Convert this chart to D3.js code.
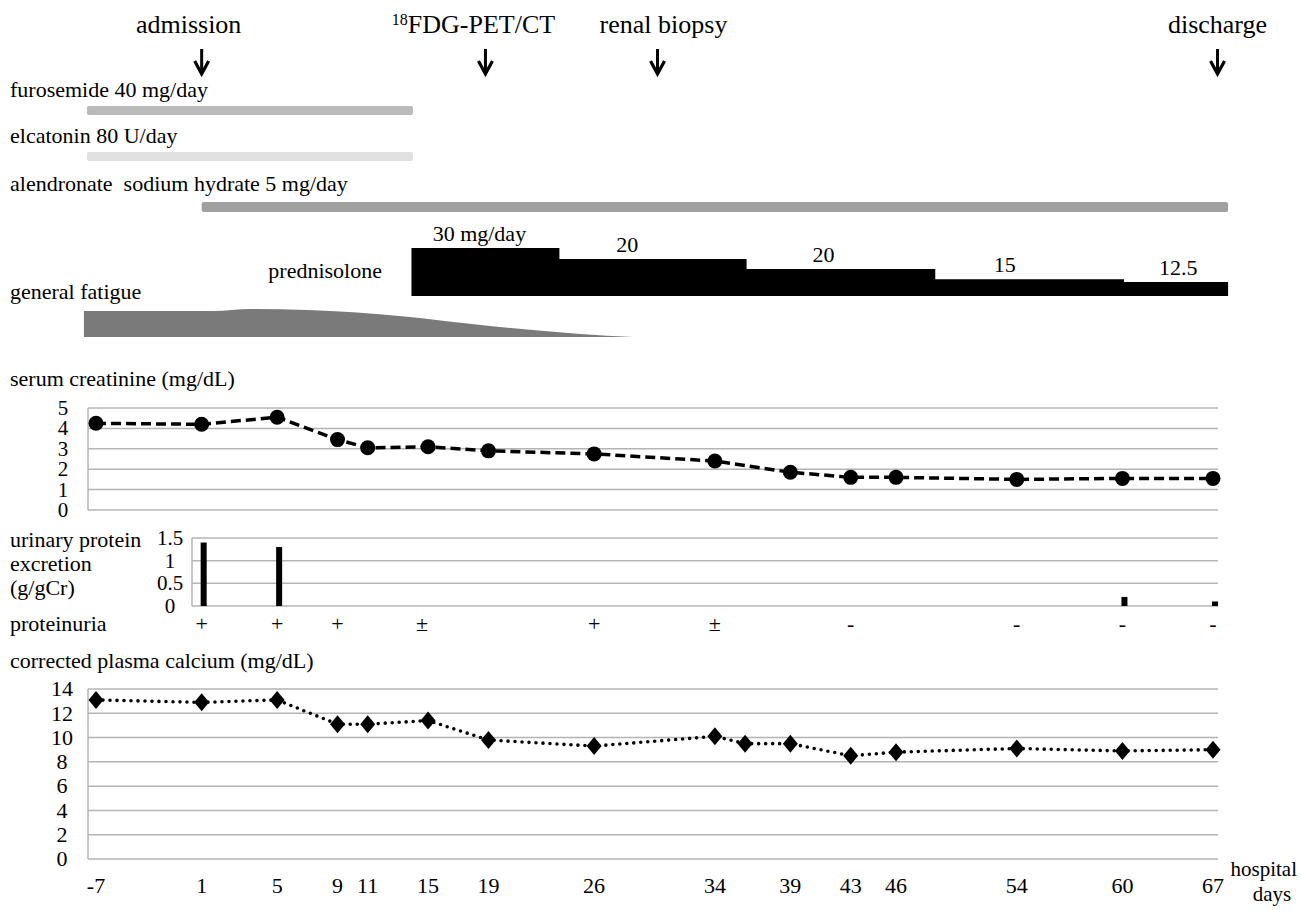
<!DOCTYPE html>
<html>
<head>
<meta charset="utf-8">
<script src="https://cdn.jsdelivr.net/npm/d3@7"></script>
<style>
  html, body { margin: 0; padding: 0; background: #fff; }
  svg { display: block; }
  svg text { font-family: "Liberation Serif", "Times New Roman", serif !important; fill: #000; }
</style>
</head>
<body>
<svg id="chart" width="1301" height="910" font-family="Liberation Serif, serif"></svg>
<script>
// ---------------- DATA ----------------
// sampling days (labels) and their drawn position along the time axis (days, no day 0)
const sampleDays = [-7, 1, 5, 9, 11, 15, 19, 26, 34, 36, 39, 43, 46, 54, 60, 67];
const samplePos  = [-6, 1, 6, 10, 12, 16, 20, 27, 35, 37, 40, 44, 47, 55, 62, 68];
const tickLabels = ['-7','1','5','9','11','15','19','26','34','','39','43','46','54','60','67'];

const creatinine = [4.25, 4.2, 4.55, 3.45, 3.05, 3.1, 2.9, 2.75, 2.4, null, 1.85, 1.6, 1.6, 1.5, 1.55, 1.55];
const calcium    = [13.1, 12.9, 13.1, 11.1, 11.1, 11.4, 9.8, 9.3, 10.1, 9.5, 9.5, 8.5, 8.8, 9.1, 8.9, 9.0];

const upcrPos    = [1, 6, 62, 68];
const upcrValues = [1.4, 1.3, 0.2, 0.1];

const protPos  = [1, 6, 10, 15.6, 27, 35, 44, 55, 62, 68];
const protSign = ['+', '+', '+', '±', '+', '±', '-', '-', '-', '-'];

const eventNames = ['admission', 'FDG-PET/CT', 'renal biopsy', 'discharge'];
const eventPos   = [1, 19.8, 31.2, 68.3];

const drugNames  = ['furosemide 40 mg/day', 'elcatonin 80 U/day', 'alendronate  sodium hydrate 5 mg/day'];
const drugStart  = [-6.6, -6.6, 1];
const drugEnd    = [15, 15, 69.0];

const predBounds = [14.9, 24.7, 37.1, 49.6, 62.1, 69.0];
const predDose   = ['30 mg/day', '20', '20', '15', '12.5'];
const predLevel  = [1, 0.77, 0.56, 0.35, 0.29];
const predLabelPos = [19.4, 29.2, 42.2, 54.2, 65.7];

const fatiguePos   = [-6.8, 1.7, 4.3, 8, 14.1, 20.1, 26.1, 29.6];
const fatigueLevel = [0.93, 0.93, 1.0, 0.96, 0.75, 0.39, 0.11, 0];

const creatTicks = [0, 1, 2, 3, 4, 5];
const upcrTicks  = [0, 0.5, 1, 1.5];
const caTicks    = [0, 2, 4, 6, 8, 10, 12, 14];

// ---------------- LAYOUT ----------------
const svg = d3.select('#chart');
const FONT = '"Liberation Serif", "Times New Roman", serif';
const axisLeft = 88, gridRight = 1218, upcrLeft = 192;
const x = d3.scaleLinear().domain([-6, 68]).range([96, 1213]);

const yCr = d3.scaleLinear().domain([0, 5]).range([510, 408]);
const yUp = d3.scaleLinear().domain([0, 1.5]).range([606, 538]);
const yCa = d3.scaleLinear().domain([0, 14]).range([859, 689]);
const yPred = d3.scaleLinear().domain([0, 1]).range([296, 248]);
const yFat = d3.scaleLinear().domain([0, 1]).range([337, 309]);

const FS = 22;
function label(g, xx, yy, str, anchor, size) {
  return g.append('text').attr('x', xx).attr('y', yy)
    .attr('text-anchor', anchor || 'start')
    .attr('font-family', FONT)
    .style('font-family', FONT)
    .style('font-size', (size || FS) + 'px')
    .style('white-space', 'pre')
    .text(str);
}

// ---------------- EVENTS ----------------
const gEv = svg.append('g');
const eventDx = [-13, -12, 6, 0];
eventNames.forEach((n, i) => {
  const cx = x(eventPos[i]);
  const t = gEv.append('text').attr('x', cx + eventDx[i]).attr('y', 33)
    .attr('text-anchor', 'middle').style('font-family', FONT).style('font-size', '26px');
  if (n === 'FDG-PET/CT') {
    t.append('tspan').attr('baseline-shift', 'super').style('font-size', '16px').text('18');
    t.append('tspan').text(n);
  } else t.text(n);
  gEv.append('line').attr('x1', cx).attr('x2', cx).attr('y1', 49).attr('y2', 72)
    .attr('stroke', '#000').attr('stroke-width', 3);
  gEv.append('path').attr('d', `M${cx - 7},61 L${cx},74 L${cx + 7},61`)
    .attr('fill', 'none').attr('stroke', '#000').attr('stroke-width', 3.2);
});

// ---------------- DRUGS ----------------
const drugTextY = [97, 143, 191];
const drugBarY = [106, 152, 202];
const drugBarH = [9, 9, 10];
const drugColor = ['#bababa', '#e1e1e1', '#a0a0a0'];
const gDr = svg.append('g');
drugNames.forEach((n, i) => {
  label(gDr, 10, drugTextY[i], n);
  gDr.append('rect').attr('x', x(drugStart[i])).attr('y', drugBarY[i])
    .attr('width', x(drugEnd[i]) - x(drugStart[i])).attr('height', drugBarH[i])
    .attr('rx', 2).attr('fill', drugColor[i]);
});

// ---------------- PREDNISOLONE ----------------
const gPr = svg.append('g');
label(gPr, 382, 278, 'prednisolone', 'end');
gPr.append('path')
  .attr('d', d3.area().x(d => x(d[0])).y0(yPred(0)).y1(d => yPred(d[1])).curve(d3.curveStepAfter)(
    predLevel.map((lv, i) => [predBounds[i], lv]).concat([[predBounds[predBounds.length - 1], predLevel[predLevel.length - 1]]])
  ))
  .attr('fill', '#000');
predDose.forEach((d, i) => {
  label(gPr, x(predLabelPos[i]), yPred(predLevel[i]) - 7, d, 'middle');
});

// ---------------- FATIGUE ----------------
const gFa = svg.append('g');
label(gFa, 10, 299, 'general fatigue');
gFa.append('path')
  .attr('d', d3.area().x(d => x(d[0])).y0(yFat(0)).y1(d => yFat(d[1])).curve(d3.curveMonotoneX)(
    fatiguePos.map((p, i) => [p, fatigueLevel[i]])))
  .attr('fill', '#7a7a7a');

// ---------------- GRID helper ----------------
function panel(scale, ticks, left, labelX, size) {
  const g = svg.append('g');
  ticks.forEach(t => {
    g.append('line').attr('x1', left).attr('x2', gridRight)
      .attr('y1', scale(t)).attr('y2', scale(t))
      .attr('stroke', '#b4b4b4').attr('stroke-width', 1.5);
    label(g, labelX, scale(t), String(t), 'middle', size).attr('dy', '0.33em');
  });
  g.append('line').attr('x1', left).attr('x2', left)
    .attr('y1', scale(ticks[ticks.length - 1])).attr('y2', scale(ticks[0]))
    .attr('stroke', '#b4b4b4').attr('stroke-width', 1.5);
  return g;
}

// ---------------- CREATININE ----------------
label(svg, 10, 386, 'serum creatinine (mg/dL)');
panel(yCr, creatTicks, axisLeft, 63, 21);
const crPts = samplePos.map((p, i) => [p, creatinine[i]]).filter(d => d[1] != null);
svg.append('path')
  .attr('d', d3.line().x(d => x(d[0])).y(d => yCr(d[1]))(crPts))
  .attr('fill', 'none').attr('stroke', '#000').attr('stroke-width', 3.5)
  .attr('stroke-dasharray', '10,5');
svg.selectAll('.crdot').data(crPts).enter().append('circle')
  .attr('cx', d => x(d[0])).attr('cy', d => yCr(d[1])).attr('r', 7.5).attr('fill', '#000');

// ---------------- URINARY PROTEIN ----------------
label(svg, 10, 547, 'urinary protein');
label(svg, 10, 571, 'excretion');
label(svg, 10, 595, '(g/gCr)');
panel(yUp, upcrTicks, upcrLeft, 170, 21);
svg.selectAll('.upbar').data(upcrPos.map((p, i) => [p, upcrValues[i]])).enter().append('rect')
  .attr('x', d => x(d[0]) - 1).attr('width', 6)
  .attr('y', d => yUp(d[1])).attr('height', d => yUp(0) - yUp(d[1]))
  .attr('fill', '#000');

// ---------------- PROTEINURIA ----------------
label(svg, 10, 631, 'proteinuria');
protSign.forEach((s, i) => label(svg, x(protPos[i]), 631, s, 'middle'));

// ---------------- CALCIUM ----------------
label(svg, 10, 668, 'corrected plasma calcium (mg/dL)');
panel(yCa, caTicks, axisLeft, 62, 22);
const caPts = samplePos.map((p, i) => [p, calcium[i]]);
svg.append('path')
  .attr('d', d3.line().x(d => x(d[0])).y(d => yCa(d[1]))(caPts))
  .attr('fill', 'none').attr('stroke', '#000').attr('stroke-width', 3.6)
  .attr('stroke-linecap', 'round').attr('stroke-dasharray', '0,7');
svg.selectAll('.cadot').data(caPts).enter().append('path')
  .attr('d', d => { const cx = x(d[0]), cy = yCa(d[1]);
    return `M${cx},${cy - 9} L${cx + 7.5},${cy} L${cx},${cy + 9} L${cx - 7.5},${cy} Z`; })
  .attr('fill', '#000');

// ---------------- X AXIS LABELS ----------------
tickLabels.forEach((t, i) => { if (t) label(svg, x(samplePos[i]), 893, t, 'middle'); });
label(svg, 1297, 876, 'hospital', 'end', 21);
label(svg, 1272, 901, 'days', 'middle', 21);
</script>
</body>
</html>
